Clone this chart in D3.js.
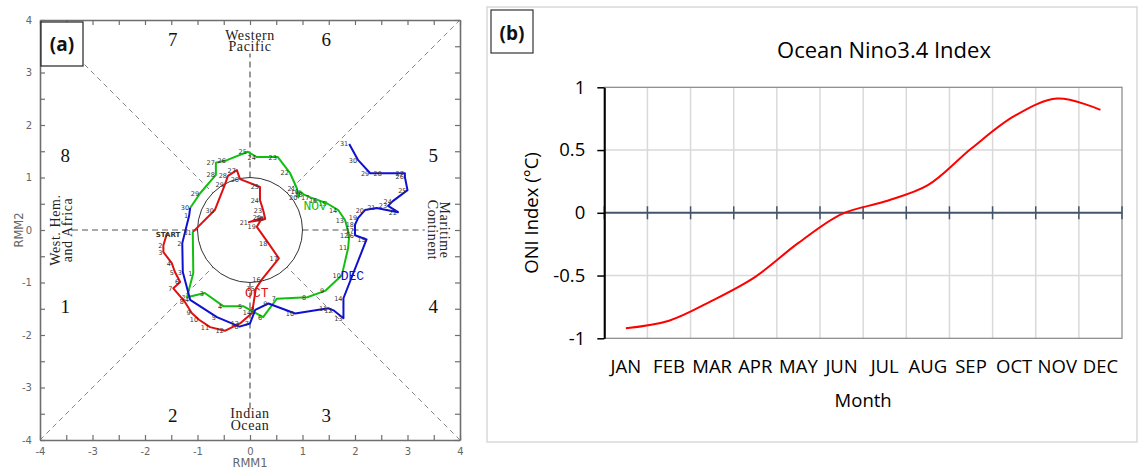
<!DOCTYPE html>
<html>
<head>
<meta charset="utf-8">
<script src="https://cdn.jsdelivr.net/npm/d3@7"></script>
<style>
  body { margin: 0; background: #fff; }
  svg { display: block; }
</style>
</head>
<body>
<svg id="chart" width="1138" height="470"></svg>
<script>
// ---- panel (a): MJO phase diagram, RMM1 / RMM2 per day ----
const octRmm1 = [-1.58,-1.65,-1.65,-1.49,-1.43,-1.33,-1.46,-1.24,-1.11,-0.97,-0.76,-0.48,-0.19,0.04,0.11,0.22,0.55,0.35,0.13,0.23,-0.02,0.29,0.25,0.19,0.19,-0.19,-0.25,-0.42,-0.48,-0.67,-1.09];
const octRmm2 = [-0.06,-0.29,-0.42,-0.63,-0.80,-0.99,-1.11,-1.37,-1.58,-1.71,-1.85,-1.92,-1.78,-1.58,-1.12,-0.95,-0.54,-0.25,0.06,0.23,0.15,0.21,0.38,0.57,0.82,0.97,1.14,1.03,0.86,0.38,-0.04];
const novRmm1 = [-1.08,-1.20,-0.86,-0.51,-0.13,0.25,0.51,1.09,1.43,1.75,1.87,1.89,1.81,1.68,1.48,1.30,1.15,1.02,0.95,0.92,0.89,0.76,0.53,0.13,-0.04,-0.44,-0.65,-0.65,-0.95,-1.14];
const novRmm2 = [-0.82,-1.28,-1.20,-1.45,-1.45,-1.66,-1.31,-1.28,-1.16,-0.86,-0.34,-0.10,0.19,0.38,0.50,0.57,0.62,0.68,0.74,0.62,0.80,1.09,1.39,1.39,1.49,1.33,1.28,1.05,0.70,0.42];
const decRmm1 = [-1.16,-1.29,-1.28,-1.14,-0.63,-0.20,0.00,0.10,0.35,0.86,1.49,1.59,1.78,1.78,2.22,2.00,2.00,2.00,2.06,2.19,2.41,2.82,2.63,2.72,3.00,2.95,2.95,2.53,2.29,2.06,1.89];
const decRmm2 = [0.27,-0.25,-0.80,-1.33,-1.66,-1.84,-1.78,-1.52,-1.40,-1.59,-1.49,-1.53,-1.68,-1.30,-0.18,-0.10,0.00,0.10,0.23,0.38,0.42,0.34,0.46,0.55,0.76,1.01,1.08,1.08,1.08,1.33,1.64];
const monthTracks = ["OCT", "NOV", "DEC"];
const trackColors = ["#e01010", "#10c010", "#1010d0"];
const phaseNames = ["1","2","3","4","5","6","7","8"];

// ---- panel (b): ONI ----
const months = ["JAN","FEB","MAR","APR","MAY","JUN","JUL","AUG","SEP","OCT","NOV","DEC"];
const oni = [-0.92,-0.86,-0.70,-0.51,-0.24,-0.01,0.09,0.22,0.51,0.77,0.91,0.82];
const oniTicks = [-1,-0.5,0,0.5,1];

const svg = d3.select("#chart");

// ================= panel (a) =================
const ga = svg.append("g");
const x = d3.scaleLinear().domain([-4, 4]).range([40, 460]);
const y = d3.scaleLinear().domain([-4, 4]).range([440, 20]);
const halfTicks = d3.range(-4, 4.01, 0.5);
const lab = d => Number.isInteger(d) ? String(d) : "";
const axisGray = "#6e6e6e";

function styleAxis(g) {
  g.select(".domain").attr("stroke", axisGray).attr("stroke-width", 1.6);
  g.selectAll(".tick line").attr("stroke", axisGray).attr("stroke-width", 1.2);
  g.selectAll(".tick text").attr("fill", "#666").attr("font-family", "DejaVu Sans")
    .attr("font-size", 10);
}
ga.append("g").attr("transform", "translate(0,440)")
  .call(d3.axisBottom(x).tickValues(halfTicks).tickSize(-5).tickSizeOuter(0).tickPadding(8).tickFormat(lab))
  .call(styleAxis);
ga.append("g").attr("transform", "translate(0,20)")
  .call(d3.axisTop(x).tickValues(halfTicks).tickSize(-5).tickSizeOuter(0).tickFormat(""))
  .call(styleAxis);
ga.append("g").attr("transform", "translate(40,0)")
  .call(d3.axisLeft(y).tickValues(halfTicks).tickSize(-5).tickSizeOuter(0).tickPadding(8).tickFormat(lab))
  .call(styleAxis);
ga.append("g").attr("transform", "translate(460,0)")
  .call(d3.axisRight(y).tickValues(halfTicks).tickSize(-5).tickSizeOuter(0).tickFormat(""))
  .call(styleAxis);

ga.append("text").attr("x", x(0)).attr("y", 467).attr("text-anchor", "middle")
  .attr("font-family", "DejaVu Sans").attr("font-size", 11.5).attr("fill", "#666").text("RMM1");
ga.append("text").attr("transform", `translate(23,${y(0)}) rotate(-90)`).attr("text-anchor", "middle")
  .attr("font-family", "DejaVu Sans").attr("font-size", 11.5).attr("fill", "#666").text("RMM2");

// guide lines
const r1 = Math.SQRT1_2;
const diag = [[-4, 4, -r1, r1], [4, 4, r1, r1], [-4, -4, -r1, -r1], [4, -4, r1, -r1]];
ga.selectAll("line.diag").data(diag).join("line").attr("class", "diag")
  .attr("x1", d => x(d[0])).attr("y1", d => y(d[1])).attr("x2", d => x(d[2])).attr("y2", d => y(d[3]))
  .attr("stroke", "#777").attr("stroke-width", 0.9).attr("stroke-dasharray", "5,4");
const axesLines = [[0, 1, 0, 3.36], [0, -1, 0, -3.42], [-3.39, 0, -1, 0], [1, 0, 3.33, 0]];
ga.selectAll("line.cross").data(axesLines).join("line").attr("class", "cross")
  .attr("x1", d => x(d[0])).attr("y1", d => y(d[1])).attr("x2", d => x(d[2])).attr("y2", d => y(d[3]))
  .attr("stroke", "#555").attr("stroke-width", 1.2).attr("stroke-dasharray", "6,4");
ga.append("circle").attr("cx", x(0)).attr("cy", y(0)).attr("r", x(1) - x(0))
  .attr("fill", "none").attr("stroke", "#333").attr("stroke-width", 1);

// region names
const serif = "Liberation Serif";
function twoLines(tx, ty, rot, l1, l2, gap) {
  const t = ga.append("g").attr("transform", `translate(${tx},${ty}) rotate(${rot})`);
  t.append("text").attr("y", 0).text(l1);
  t.append("text").attr("y", gap).text(l2);
  t.selectAll("text").attr("text-anchor", "middle").attr("font-family", serif)
    .attr("font-size", 14).attr("letter-spacing", 0.6).attr("fill", "#222");
}
twoLines(x(0), 40, 0, "Western", "Pacific", 11);
twoLines(x(0), 418, 0, "Indian", "Ocean", 12);
twoLines(60, y(0), -90, "West. Hem.", "and Africa", 12);
twoLines(440, y(0), 90, "Maritime", "Continent", 12);

// phase numbers
const phasePos = [[-3.52, -1.58], [-1.47, -3.66], [1.45, -3.66], [3.49, -1.58],
                  [3.49, 1.30], [1.45, 3.5], [-1.47, 3.5], [-3.52, 1.30]];
ga.selectAll("text.phase").data(phaseNames).join("text").attr("class", "phase")
  .attr("x", (d, i) => x(phasePos[i][0])).attr("y", (d, i) => y(phasePos[i][1]))
  .attr("text-anchor", "middle").attr("font-family", serif).attr("font-size", 19)
  .attr("fill", "#111").text(d => d);

// tracks
const tracks = [
  d3.zip(octRmm1, octRmm2),
  d3.zip(novRmm1, novRmm2),
  d3.zip(decRmm1, decRmm2)
];
const line = d3.line().x(d => x(d[0])).y(d => y(d[1]));
tracks.forEach((pts, k) => {
  const path = k === 0 ? pts : [tracks[k - 1][tracks[k - 1].length - 1]].concat(pts);
  ga.append("path").datum(path).attr("d", line).attr("fill", "none")
    .attr("stroke", trackColors[k]).attr("stroke-width", 2).attr("stroke-linejoin", "round");
});
tracks.forEach((pts, k) => {
  ga.selectAll(null).data(pts).join("text")
    .attr("x", d => x(d[0]) - 1).attr("y", d => y(d[1]) + 2.5)
    .attr("text-anchor", "end").attr("font-family", "DejaVu Sans").attr("font-size", 6.5)
    .attr("fill", "#333")
    .text((d, i) => (k === 0 && i === 0) ? "" : String(i + 1));
});
ga.append("text").attr("x", x(octRmm1[0]) + 1).attr("y", y(octRmm2[0]) + 4)
  .attr("text-anchor", "middle").attr("font-family", "DejaVu Sans").attr("font-size", 7)
  .attr("font-weight", "bold").attr("fill", "#333").text("START");

const monthLabelPos = [[0.13, -1.28], [1.24, 0.38], [1.95, -0.95]];
ga.selectAll("text.mon").data(monthTracks).join("text").attr("class", "mon")
  .attr("x", (d, i) => x(monthLabelPos[i][0])).attr("y", (d, i) => y(monthLabelPos[i][1]))
  .attr("text-anchor", "middle").attr("font-family", "Liberation Mono").attr("font-size", 13)
  .attr("fill", (d, i) => trackColors[i]).text(d => d);

// label box (a)
ga.append("rect").attr("x", 41).attr("y", 22).attr("width", 42).attr("height", 44)
  .attr("fill", "#fff").attr("stroke", "#222").attr("stroke-width", 1.2);
ga.append("text").attr("x", 62).attr("y", 51).attr("text-anchor", "middle")
  .attr("font-family", "Open Sans").attr("font-weight", "bold").attr("font-size", 19)
  .attr("fill", "#111").text("(a)");

// ================= panel (b) =================
const gb = svg.append("g");
gb.append("rect").attr("x", 487).attr("y", 7).attr("width", 650).attr("height", 435)
  .attr("fill", "#fff").attr("stroke", "#d9d9d9").attr("stroke-width", 1.5);
gb.append("rect").attr("x", 491).attr("y", 10).attr("width", 42).attr("height", 43)
  .attr("fill", "#fff").attr("stroke", "#333").attr("stroke-width", 1.2);
gb.append("text").attr("x", 512).attr("y", 40).attr("text-anchor", "middle")
  .attr("font-family", "Open Sans").attr("font-weight", "bold").attr("font-size", 19)
  .attr("fill", "#111").text("(b)");

const bx = d3.scaleBand().domain(months).range([604.3, 1122]).padding(0);
const by = d3.scaleLinear().domain([-1, 1]).range([338.3, 87.3]);
const step = bx.step();
const bounds = d3.range(0, months.length + 1).map(i => bx.range()[0] + i * step);

gb.selectAll("line.vg").data(bounds.slice(1, -1)).join("line").attr("class", "vg")
  .attr("x1", d => d).attr("x2", d => d).attr("y1", by(1)).attr("y2", by(-1))
  .attr("stroke", "#d9d9d9").attr("stroke-width", 1.5);
gb.selectAll("line.hg").data([0.5, -0.5]).join("line").attr("class", "hg")
  .attr("x1", bx.range()[0]).attr("x2", bx.range()[1]).attr("y1", d => by(d)).attr("y2", d => by(d))
  .attr("stroke", "#d9d9d9").attr("stroke-width", 1.5);
gb.append("rect").attr("x", bx.range()[0]).attr("y", by(1))
  .attr("width", bx.range()[1] - bx.range()[0]).attr("height", by(-1) - by(1))
  .attr("fill", "none").attr("stroke", "#868686").attr("stroke-width", 1.2);

// zero line with tick marks
gb.append("line").attr("x1", bx.range()[0]).attr("x2", bx.range()[1])
  .attr("y1", by(0)).attr("y2", by(0)).attr("stroke", "#44546a").attr("stroke-width", 2);
gb.selectAll("line.zt").data(bounds).join("line").attr("class", "zt")
  .attr("x1", d => d).attr("x2", d => d).attr("y1", by(0) - 6.5).attr("y2", by(0) + 6.5)
  .attr("stroke", "#44546a").attr("stroke-width", 1.5);

const yAxisB = gb.append("g").attr("transform", `translate(${bx.range()[0]},0)`)
  .call(d3.axisLeft(by).tickValues(oniTicks).tickSize(7).tickSizeOuter(0).tickPadding(12)
    .tickFormat(d => String(d)));
yAxisB.select(".domain").attr("stroke", "#000").attr("stroke-width", 2);
yAxisB.selectAll(".tick line").attr("stroke", "#000").attr("stroke-width", 1.5);
yAxisB.selectAll(".tick text").attr("font-family", "Open Sans").attr("font-size", 18.5).attr("fill", "#000");

gb.selectAll("text.mlab").data(months).join("text").attr("class", "mlab")
  .attr("x", d => bx(d) + step / 2).attr("y", 373).attr("text-anchor", "middle")
  .attr("font-family", "Open Sans").attr("font-size", 18.5).attr("fill", "#000").text(d => d);

gb.append("text").attr("x", (bx.range()[0] + bx.range()[1]) / 2).attr("y", 407)
  .attr("text-anchor", "middle").attr("font-family", "Open Sans").attr("font-size", 18.5)
  .attr("fill", "#000").text("Month");
gb.append("text").attr("transform", `translate(538,213) rotate(-90)`).attr("text-anchor", "middle")
  .attr("font-family", "Open Sans").attr("font-size", 18.5).attr("fill", "#000").text("ONI Index (°C)");
gb.append("text").attr("x", 884).attr("y", 58).attr("text-anchor", "middle")
  .attr("font-family", "Open Sans").attr("font-size", 22).attr("fill", "#000").text("Ocean Nino3.4 Index");

const oniLine = d3.line().x((d, i) => bx(months[i]) + step / 2).y(d => by(d))
  .curve(d3.curveCatmullRom.alpha(0.5));
gb.append("path").datum(oni).attr("d", oniLine).attr("fill", "none")
  .attr("stroke", "#ff0000").attr("stroke-width", 2);
</script>
</body>
</html>
